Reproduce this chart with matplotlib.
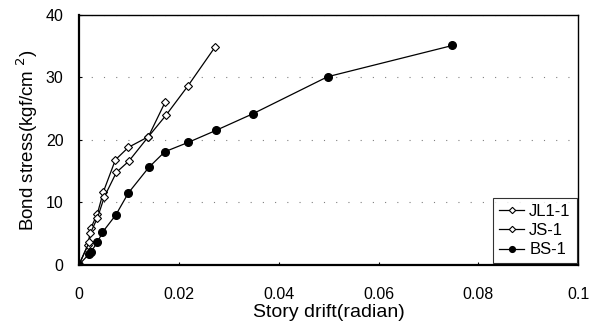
import numpy as np
import matplotlib.pyplot as plt

# data
jl_x = [0, 0.0018, 0.0024, 0.0037, 0.0049, 0.0073, 0.0099, 0.0139, 0.0174, 0.0218, 0.0273]
jl_y = [0, 3.2, 5.9, 8.2, 11.7, 16.8, 18.8, 20.5, 23.9, 28.6, 34.9]

js_x = [0, 0.0021, 0.0023, 0.0037, 0.0051, 0.0075, 0.0100, 0.0139, 0.0173]
js_y = [0, 3.7, 5.1, 7.5, 10.9, 14.8, 16.6, 20.5, 26.1]

bs_x = [0, 0.0021, 0.0024, 0.0037, 0.0047, 0.0074, 0.0099, 0.0140, 0.0172, 0.0219, 0.0274, 0.0349, 0.0498, 0.0748]
bs_y = [0, 1.8, 2.1, 3.6, 5.2, 8.0, 11.5, 15.6, 18.1, 19.6, 21.5, 24.2, 30.1, 35.1]

x_ticks = [0, 0.02, 0.04, 0.06, 0.08, 0.1]
x_tick_labels = ['0', '0.02', '0.04', '0.06', '0.08', '0.1']
y_ticks = [0, 10, 20, 30, 40]

plt.rcParams['font.family'] = ['Liberation Sans', 'DejaVu Sans']

fig = plt.figure(figsize=(5.98, 3.23), dpi=100)
ax = fig.add_axes([0.132, 0.18, 0.835, 0.774])

ax.plot(jl_x, jl_y, color='black', lw=0.9, marker='D', ms=4.3,
        mfc='white', mec='black', mew=0.8, label='JL1-1')
ax.plot(js_x, js_y, color='black', lw=0.9, marker='D', ms=4.3,
        mfc='white', mec='black', mew=0.8, label='JS-1')
ax.plot(bs_x, bs_y, color='black', lw=0.9, marker='o', ms=5.5,
        mfc='black', mec='black', label='BS-1')

ax.set_xlim(0, 0.1)
ax.set_ylim(0, 40)
ax.set_xticks(x_ticks)
ax.set_xticklabels(x_tick_labels)
ax.set_yticks(y_ticks)
ax.tick_params(axis='both', labelsize=11.5, length=2, direction='in')
ax.tick_params(axis='x', pad=16)
ax.tick_params(axis='y', pad=11)

ax.grid(axis='y', color='gray', linestyle=(0, (1, 10)), lw=0.8)

ax.set_xlabel('Story drift(radian)', fontsize=14, labelpad=1.5)
ax.set_ylabel('Bond stress(kgf/cm $^{2}$)', fontsize=13.5, labelpad=4)

for side in ['left', 'bottom']:
    ax.spines[side].set_linewidth(1.6)
for side in ['top', 'right']:
    ax.spines[side].set_linewidth(1.0)

leg = ax.legend(loc='lower right', bbox_to_anchor=(1.0, 0.0), fontsize=12,
                frameon=True, fancybox=False, edgecolor='black',
                handlelength=1.5, handletextpad=0.3, borderpad=0.35,
                labelspacing=0.25, borderaxespad=0.1, markerscale=0.75)
leg.get_frame().set_linewidth(0.8)

fig.savefig('out.png', dpi=100)
